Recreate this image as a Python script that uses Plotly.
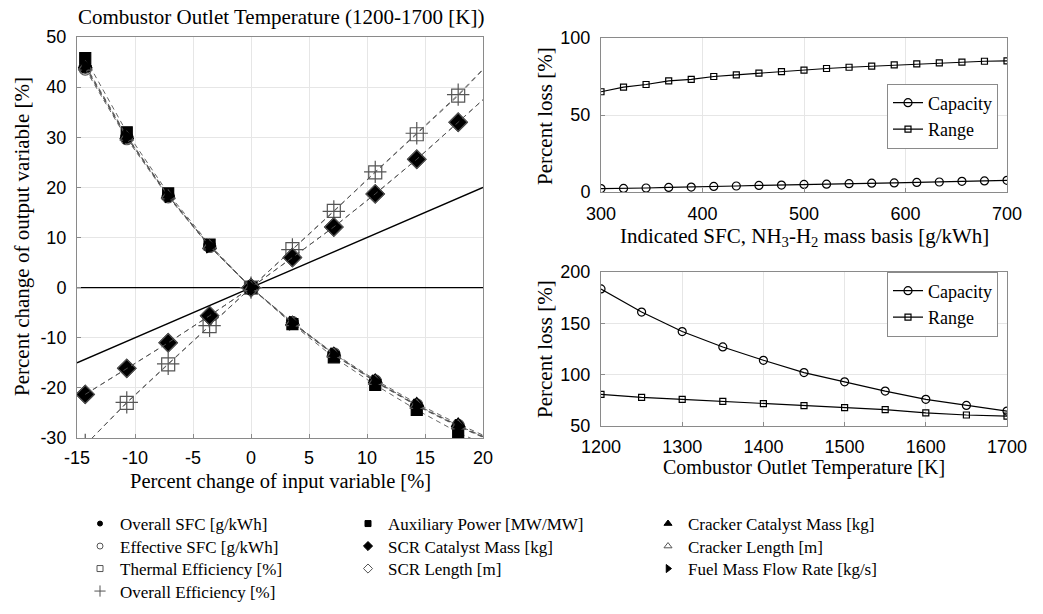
import plotly.graph_objects as go

W, H = 1043, 614

# ---------------- data: left sensitivity plot ----------------
x_change = [-14.29, -10.71, -7.14, -3.57, 0.0, 3.57, 7.14, 10.71, 14.29, 17.86, 21.43]

overall_sfc = [44.0, 30.0, 18.3, 8.3, 0.0, -7.0, -13.3, -18.7, -23.5, -27.6, -31.2]
effective_sfc = [43.6, 29.7, 18.1, 8.2, 0.0, -7.0, -13.2, -18.6, -23.4, -27.5, -31.1]
thermal_eff = [-31.4, -23.0, -15.3, -7.7, 0.0, 7.7, 15.3, 23.0, 30.6, 38.3, 46.9]
overall_eff = [-31.4, -22.9, -15.2, -7.6, 0.0, 7.6, 15.2, 23.1, 30.8, 38.5, 47.0]
aux_power = [45.8, 31.0, 18.8, 8.6, 0.0, -7.3, -13.9, -19.4, -24.4, -28.9, -32.7]
scr_cat_mass = [-21.3, -16.1, -11.0, -5.6, 0.0, 6.0, 12.1, 18.7, 25.6, 33.0, 40.5]
scr_length = [-21.3, -16.1, -11.0, -5.6, 0.0, 6.0, 12.1, 18.7, 25.6, 33.0, 40.5]
cracker_cat_mass = [44.4, 30.3, 18.4, 8.4, 0.0, -6.9, -13.1, -18.4, -23.1, -27.2, -30.9]
cracker_length = [44.0, 30.0, 18.3, 8.3, 0.0, -7.0, -13.3, -18.7, -23.5, -27.6, -31.2]
fuel_mass_flow = [44.2, 30.1, 18.3, 8.3, 0.0, -7.1, -13.4, -18.8, -23.6, -27.7, -31.3]

ref_x = [-15, 20]
ref_unity = [-15, 20]
ref_zero = [0, 0]

left_xticks = [-15, -10, -5, 0, 5, 10, 15, 20]
left_xlabels = ["-15", "-10", "-5", "0", "5", "10", "15", "20"]
left_yticks = [-30, -20, -10, 0, 10, 20, 30, 40, 50]
left_ylabels = ["-30", "-20", "-10", "0", "10", "20", "30", "40", "50"]

# ---------------- data: top-right (SFC) ----------------
sfc = [300.0, 322.2, 344.4, 366.7, 388.9, 411.1, 433.3, 455.6, 477.8, 500.0,
       522.2, 544.4, 566.7, 588.9, 611.1, 633.3, 655.6, 677.8, 700.0]
sfc_capacity = [2.2, 2.3, 2.6, 3.0, 3.2, 3.6, 3.9, 4.3, 4.5, 4.9, 5.1, 5.4, 5.7, 5.9, 6.2, 6.5, 6.9, 7.2, 7.6]
sfc_range = [65.1, 68.1, 69.8, 72.2, 73.1, 75.0, 76.1, 77.2, 78.2, 79.1,
             80.2, 81.0, 81.7, 82.5, 83.2, 83.8, 84.3, 84.9, 85.1]

# ---------------- data: bottom-right (temperature) ----------------
temp = [1200, 1250, 1300, 1350, 1400, 1450, 1500, 1550, 1600, 1650, 1700]
temp_capacity = [183.5, 161.0, 142.0, 127.0, 114.0, 102.0, 93.0, 84.0, 76.0, 70.0, 64.5]
temp_range = [80.8, 77.9, 76.0, 74.0, 71.8, 69.8, 67.9, 65.9, 62.7, 60.7, 59.7]

SERIF = "Liberation Serif"
SANS = "Liberation Sans"
GRAY = "#555555"

def px(x):
    return x / W

def py(y):
    return 1 - y / H

fig = go.Figure()

# reference lines
fig.add_trace(go.Scatter(x=ref_x, y=ref_zero, mode="lines", line=dict(color="black", width=1.4),
                         showlegend=False, hoverinfo="skip", xaxis="x", yaxis="y"))
fig.add_trace(go.Scatter(x=ref_x, y=ref_unity, mode="lines", line=dict(color="black", width=1.4),
                         showlegend=False, hoverinfo="skip", xaxis="x", yaxis="y"))

series = [
    ("Overall SFC [g/kWh]", overall_sfc, "circle", "black", 12),
    ("Effective SFC [g/kWh]", effective_sfc, "circle-open", GRAY, 12),
    ("Thermal Efficiency [%]", thermal_eff, "square-open", GRAY, 13),
    ("Overall Efficiency [%]", overall_eff, "cross-thin-open", GRAY, 16),
    ("Auxiliary Power [MW/MW]", aux_power, "square", "black", 11),
    ("SCR Catalyst Mass [kg]", scr_cat_mass, "diamond", "black", 14),
    ("SCR Length [m]", scr_length, "diamond-open", GRAY, 14),
    ("Cracker Catalyst Mass [kg]", cracker_cat_mass, "triangle-up", "black", 12),
    ("Cracker Length [m]", cracker_length, "triangle-up-open", GRAY, 12),
    ("Fuel Mass Flow Rate [kg/s]", fuel_mass_flow, "triangle-right", "black", 12),
]

legend_sizes = {"circle": 5, "circle-open": 6, "square-open": 6, "cross-thin-open": 8,
                "square": 6, "diamond": 7, "diamond-open": 7, "triangle-up": 7,
                "triangle-up-open": 7, "triangle-right": 7}

# legend slot positions (text left edge, row centre) for the key below the plots
key_cols = [120, 120, 120, 120, 388, 388, 388, 688, 688, 688]
key_rows = [524, 546.5, 569, 591.5, 524, 546.5, 569, 524, 546.5, 569]

for name, vals, sym, col, size in series:
    fig.add_trace(go.Scatter(
        x=x_change, y=vals, mode="lines+markers", name=name,
        line=dict(color=GRAY, width=0.9, dash="5px,4px"),
        marker=dict(symbol=sym, size=size, color=col, line=dict(color=col, width=1.2)),
        showlegend=False, xaxis="x", yaxis="y"))

leg_font = dict(family=SERIF, size=17, color="black")
legend_layout = {}
for i, (name, vals, sym, col, size) in enumerate(series):
    key = "legend" if i == 0 else f"legend{i + 1}"
    fig.add_trace(go.Scatter(
        x=[None], y=[None], mode="markers", name=name,
        marker=dict(symbol=sym, size=legend_sizes[sym], color=col, line=dict(color=col, width=1)),
        showlegend=True, legend=key, xaxis="x", yaxis="y"))
    legend_layout[key] = dict(x=px(key_cols[i] - 40), y=py(key_rows[i]), xanchor="left", yanchor="middle",
                              bgcolor="rgba(0,0,0,0)", borderwidth=0, font=leg_font, itemwidth=30)

# right plots
fig.add_trace(go.Scatter(x=sfc, y=sfc_capacity, mode="lines+markers", name="Capacity",
                         line=dict(color="black", width=1.2),
                         marker=dict(symbol="circle-open", size=8, color="black", line=dict(width=1.2)),
                         legend="legend11", xaxis="x2", yaxis="y2"))
fig.add_trace(go.Scatter(x=sfc, y=sfc_range, mode="lines+markers", name="Range",
                         line=dict(color="black", width=1.2),
                         marker=dict(symbol="square-open", size=6, color="black", line=dict(width=1.2)),
                         legend="legend11", xaxis="x2", yaxis="y2"))
fig.add_trace(go.Scatter(x=temp, y=temp_capacity, mode="lines+markers", name="Capacity",
                         line=dict(color="black", width=1.2),
                         marker=dict(symbol="circle-open", size=8, color="black", line=dict(width=1.2)),
                         legend="legend12", xaxis="x3", yaxis="y3"))
fig.add_trace(go.Scatter(x=temp, y=temp_range, mode="lines+markers", name="Range",
                         line=dict(color="black", width=1.2),
                         marker=dict(symbol="square-open", size=6, color="black", line=dict(width=1.2)),
                         legend="legend12", xaxis="x3", yaxis="y3"))

axis_common = dict(showline=True, mirror=True, linecolor="#8a8a8a", linewidth=1,
                   showgrid=True, gridcolor="#e6e6e6", gridwidth=1, zeroline=False,
                   ticks="inside", ticklen=4, tickcolor="#8a8a8a", automargin=False,
                   tickfont=dict(family=SANS, size=18, color="black"))

box_font = dict(family=SERIF, size=18, color="black")
box_leg = dict(bgcolor="white", bordercolor="#8a8a8a", borderwidth=1, font=box_font,
               xanchor="left", yanchor="middle", tracegroupgap=0, itemwidth=30)

fig.update_layout(
    width=W, height=H, margin=dict(l=0, r=0, t=0, b=0, autoexpand=False),
    paper_bgcolor="white", plot_bgcolor="white",
    xaxis=dict(domain=[px(77), px(483)], range=[-15, 20], tickvals=left_xticks, ticktext=left_xlabels,
               anchor="y", ticklabelstandoff=3, **axis_common),
    yaxis=dict(domain=[py(438), py(37)], range=[-30, 50], tickvals=left_yticks, ticktext=left_ylabels,
               anchor="x", ticklabelstandoff=6, **axis_common),
    xaxis2=dict(domain=[px(601), px(1007)], range=[300, 700], tickvals=[300, 400, 500, 600, 700],
                anchor="y2", ticklabelstandoff=5, **axis_common),
    yaxis2=dict(domain=[py(192), py(38)], range=[0, 100], tickvals=[0, 50, 100],
                anchor="x2", ticklabelstandoff=6, **axis_common),
    xaxis3=dict(domain=[px(601), px(1007)], range=[1200, 1700], tickvals=[1200, 1300, 1400, 1500, 1600, 1700],
                anchor="y3", ticklabelstandoff=4, **axis_common),
    yaxis3=dict(domain=[py(426), py(272)], range=[50, 200], tickvals=[50, 100, 150, 200],
                anchor="x3", ticklabelstandoff=6, **axis_common),
    legend11=dict(x=px(887), y=py(116), **box_leg),
    legend12=dict(x=px(887), y=py(304), **box_leg),
)
fig.update_layout(**legend_layout)

annotations = [
    dict(text="Combustor Outlet Temperature (1200-1700 [K])", x=px(281), y=py(17)),
    dict(text="Percent change of input variable [%]", x=px(280), y=py(481), font_size=20.5),
    dict(text="Percent change of output variable [%]", x=px(22), y=py(237), textangle=-90),
    dict(text="Indicated SFC, NH<sub>3</sub>-H<sub>2</sub> mass basis [g/kWh]", x=px(804), y=py(237)),
    dict(text="Percent loss [%]", x=px(545), y=py(116), textangle=-90),
    dict(text="Combustor Outlet Temperature [K]", x=px(804), y=py(467), font_size=20),
    dict(text="Percent loss [%]", x=px(545), y=py(349), textangle=-90),
]
for a in annotations:
    fs = a.pop("font_size", 21)
    a.update(xref="paper", yref="paper", showarrow=False, xanchor="center", yanchor="middle",
             font=dict(family=SERIF, size=fs, color="black"))
fig.update_layout(annotations=annotations)

fig.write_html("out.html")
